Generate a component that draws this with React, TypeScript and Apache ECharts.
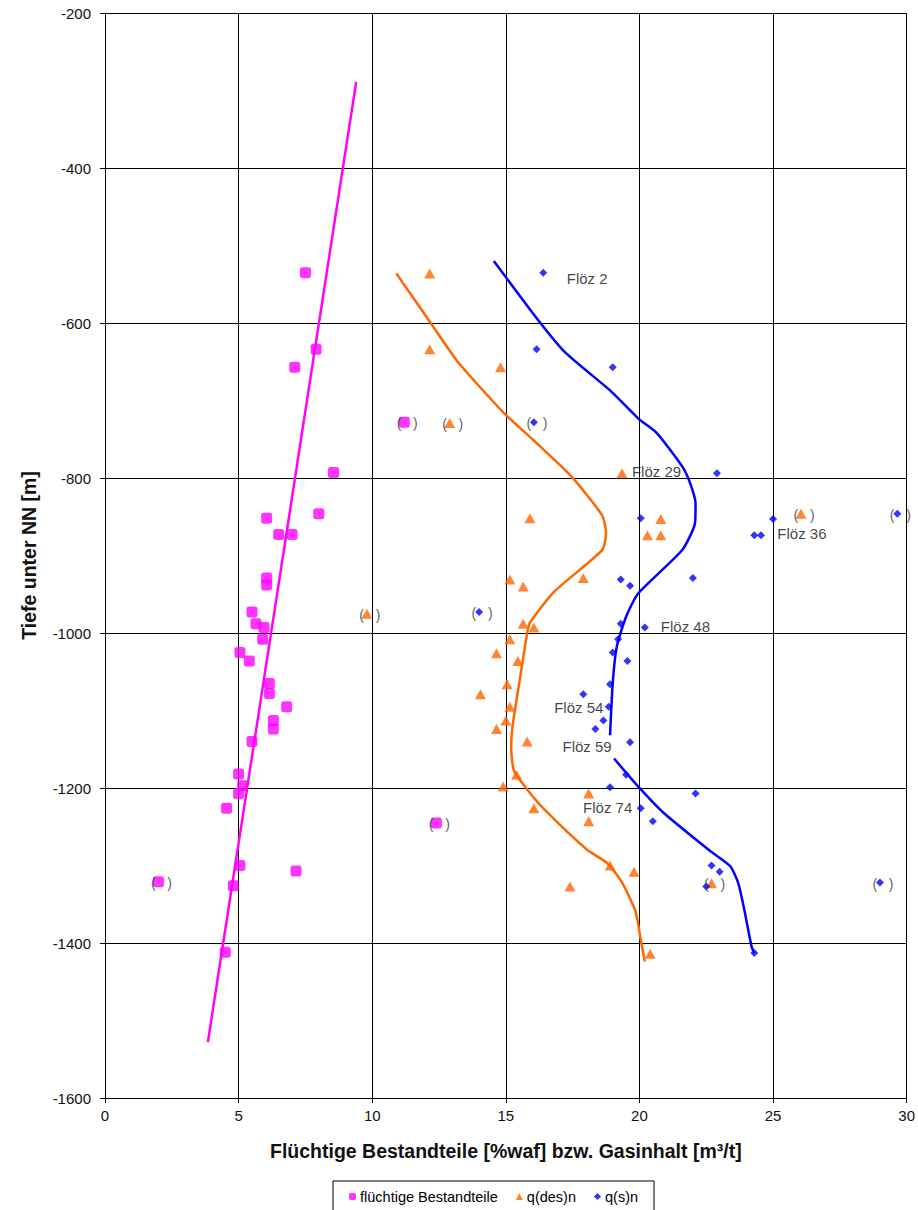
import React, { useEffect, useRef } from "react";
import * as echarts from "echarts";

// ---- axis ticks ----
const xTicks = [0, 5, 10, 15, 20, 25, 30];
const yTicks = [-200, -400, -600, -800, -1000, -1200, -1400, -1600];

// ---- flüchtige Bestandteile [%waf] vs depth [m] ----
const volatilePoints: number[][] = [
  [7.5, -535], [7.9, -634], [7.1, -657], [8.55, -793], [6.05, -852], [8.0, -846],
  [6.5, -873], [7.0, -873], [6.05, -929], [6.05, -938], [5.5, -973], [5.65, -988],
  [5.95, -993], [5.9, -1008], [5.05, -1025], [5.4, -1036], [6.15, -1065], [6.15, -1078],
  [6.8, -1095], [6.3, -1113], [6.3, -1124], [5.5, -1140], [5.0, -1182], [5.15, -1197],
  [5.0, -1207], [4.55, -1226], [5.05, -1300], [4.8, -1326], [7.15, -1307], [4.5, -1412],
];
const volatileBracketed: number[][] = [[11.2, -728], [2.0, -1321], [12.4, -1245]];
const volatileTrend: number[][] = [[9.4, -289], [3.85, -1528]];

// ---- q(des)n [m³/t] ----
const desPoints: number[][] = [
  [12.15, -536], [12.15, -634], [14.8, -657], [19.35, -794], [15.9, -852], [20.8, -853],
  [20.3, -874], [20.8, -874], [15.15, -931], [15.65, -940], [17.9, -929], [15.65, -988],
  [16.05, -993], [15.15, -1008], [14.65, -1026], [15.45, -1036], [15.05, -1066], [14.05, -1079],
  [15.15, -1095], [15.0, -1113], [14.65, -1124], [15.8, -1140], [15.4, -1183], [14.9, -1198],
  [18.1, -1207], [16.05, -1226], [18.1, -1243], [17.4, -1327], [18.9, -1300], [19.8, -1308],
  [20.4, -1414],
];
const desBracketed: number[][] = [[12.9, -729], [9.8, -975], [26.05, -846], [22.7, -1323]];
const desCurve: number[][] = [
  [10.9, -536], [12.15, -598], [13.2, -650], [14.95, -717], [15.9, -747], [17.45, -798],
  [18.6, -848], [18.75, -871], [18.6, -893], [16.8, -947], [15.9, -987], [15.8, -1000],
  [15.5, -1065], [15.25, -1121], [15.2, -1147], [15.3, -1177], [15.8, -1202], [16.45, -1228],
  [18.05, -1280], [18.8, -1297], [19.35, -1322], [19.85, -1359], [20.05, -1396], [20.2, -1424],
];

// ---- q(s)n [m³/t] ----
const sPoints: number[][] = [
  [16.4, -535], [16.15, -634], [19.0, -657], [22.9, -794], [20.05, -852], [25.0, -853],
  [24.3, -874], [24.55, -874], [19.3, -931], [19.65, -939], [22.0, -929], [19.3, -988],
  [20.2, -993], [19.2, -1008], [19.0, -1025], [19.55, -1036], [18.9, -1066], [17.9, -1079],
  [18.85, -1095], [18.65, -1113], [18.35, -1124], [19.65, -1141], [19.5, -1183], [18.9, -1199],
  [22.1, -1207], [20.05, -1226], [20.5, -1243], [22.7, -1300], [23.0, -1308], [22.5, -1327],
  [24.3, -1413],
];
const sBracketed: number[][] = [[16.05, -728], [14.0, -973], [29.65, -846], [29.0, -1322]];
const sCurveUpper: number[][] = [
  [14.55, -520], [16.25, -598], [17.25, -639], [18.9, -687], [19.95, -723], [20.65, -742],
  [21.6, -785], [21.9, -807], [22.1, -833], [22.08, -858], [21.6, -893], [19.95, -949],
  [19.5, -979], [19.15, -1018], [19.0, -1065], [18.9, -1132],
];
const sCurveLower: number[][] = [
  [19.05, -1162], [19.95, -1198], [20.9, -1232], [22.6, -1280], [23.4, -1301], [23.7, -1323],
  [23.9, -1353], [24.2, -1405], [24.3, -1413],
];

// ---- seam labels ----
const seamNames = ["Flöz 2", "Flöz 29", "Flöz 36", "Flöz 48", "Flöz 54", "Flöz 59", "Flöz 74"];
const seamAnchors: number[][] = [
  [17.28, -542], [19.72, -791], [25.16, -871], [20.8, -992], [16.81, -1096], [17.12, -1147], [17.89, -1225],
];

const FONT = "'Liberation Sans', Arial, sans-serif";
const MAGENTA = "#FF00FF";
const ORANGE = "#FF6600";
const BLUE = "#0000FF";

const bracketLabel = {
  show: true,
  formatter: "(   )",
  position: "inside",
  offset: [3, 1],
  color: "#333",
  fontSize: 14,
  fontFamily: FONT,
};

function pointData(points: number[][], bracketed: number[][]) {
  return [
    ...points.map((p) => ({ value: p })),
    ...bracketed.map((p) => ({ value: p, label: bracketLabel })),
  ];
}

export default function App() {
  const ref = useRef<HTMLDivElement>(null);
  useEffect(() => {
    if (!ref.current) return;
    const chart = echarts.init(ref.current, null, { renderer: "svg" });
    const xInterval = xTicks[1] - xTicks[0];
    const yInterval = Math.abs(yTicks[1] - yTicks[0]);
    chart.setOption({
      animation: false,
      backgroundColor: "#fff",
      textStyle: { fontFamily: FONT },
      grid: { left: 105, top: 13, right: 7, bottom: 112, containLabel: false },
      legend: {
        data: ["flüchtige Bestandteile", "q(des)n", "q(s)n"],
        left: 333,
        top: 1181,
        orient: "horizontal",
        borderColor: "#000",
        borderWidth: 1,
        padding: [8, 16, 12, 16],
        itemGap: 18,
        itemWidth: 7,
        itemHeight: 7,
        textStyle: { fontSize: 14.5, color: "#000", fontFamily: FONT, padding: [0, 0, 0, -1] },
      },
      xAxis: {
        type: "value",
        min: xTicks[0],
        max: xTicks[xTicks.length - 1],
        interval: xInterval,
        name: "Flüchtige Bestandteile [%waf] bzw. Gasinhalt [m³/t]",
        nameLocation: "middle",
        nameGap: 43,
        nameTextStyle: { fontSize: 19.5, fontWeight: "bold", color: "#111", fontFamily: FONT },
        axisLine: { onZero: false, lineStyle: { color: "#000", width: 1 } },
        axisTick: { show: true, length: 5, lineStyle: { color: "#000" } },
        axisLabel: { margin: 10, fontSize: 15, color: "#111", fontFamily: FONT, formatter: (v: number) => String(v) },
        splitLine: { show: true, lineStyle: { color: "#000", width: 1 } },
      },
      yAxis: {
        type: "value",
        min: yTicks[yTicks.length - 1],
        max: yTicks[0],
        interval: yInterval,
        name: "Tiefe unter NN [m]",
        nameLocation: "middle",
        nameGap: 66,
        nameTextStyle: { fontSize: 19.5, fontWeight: "bold", color: "#111", fontFamily: FONT },
        axisLine: { onZero: false, lineStyle: { color: "#000", width: 1 } },
        axisTick: { show: true, length: 5, lineStyle: { color: "#000" } },
        axisLabel: { margin: 14, fontSize: 15, color: "#111", fontFamily: FONT, formatter: (v: number) => String(v) },
        splitLine: { show: true, lineStyle: { color: "#000", width: 1 } },
      },
      series: [
        {
          name: "Trend flüchtige Bestandteile",
          type: "line",
          data: volatileTrend,
          symbol: "none",
          lineStyle: { color: MAGENTA, width: 2.5 },
          silent: true,
        },
        {
          name: "Kurve q(des)n",
          type: "line",
          data: desCurve,
          symbol: "none",
          smooth: 0.2,
          lineStyle: { color: ORANGE, width: 2.5 },
          silent: true,
        },
        {
          name: "Kurve q(s)n oben",
          type: "line",
          data: sCurveUpper,
          symbol: "none",
          smooth: 0.2,
          lineStyle: { color: BLUE, width: 2.5 },
          silent: true,
        },
        {
          name: "Kurve q(s)n unten",
          type: "line",
          data: sCurveLower,
          symbol: "none",
          smooth: 0.2,
          lineStyle: { color: BLUE, width: 2.5 },
          silent: true,
        },
        {
          name: "flüchtige Bestandteile",
          type: "scatter",
          symbol: "roundRect",
          symbolSize: 11,
          itemStyle: { color: MAGENTA },
          data: pointData(volatilePoints, volatileBracketed),
        },
        {
          name: "q(des)n",
          type: "scatter",
          symbol: "triangle",
          symbolSize: [11, 10],
          itemStyle: { color: ORANGE },
          data: pointData(desPoints, desBracketed),
        },
        {
          name: "q(s)n",
          type: "scatter",
          symbol: "diamond",
          symbolSize: 8,
          itemStyle: { color: BLUE },
          data: pointData(sPoints, sBracketed),
        },
        {
          name: "Flöz",
          type: "scatter",
          symbolSize: 0,
          silent: true,
          data: seamAnchors.map((p, i) => ({ value: p, name: seamNames[i] })),
          label: {
            show: true,
            formatter: (p: any) => p.name,
            position: "right",
            distance: 0,
            color: "#111",
            fontSize: 15,
            fontFamily: FONT,
          },
          z: 5,
        },
      ],
    });
    return () => chart.dispose();
  }, []);
  return (
    <div
      ref={ref}
      style={{ position: "fixed", left: 0, top: 0, width: 918, height: 1210, background: "#fff" }}
    />
  );
}
